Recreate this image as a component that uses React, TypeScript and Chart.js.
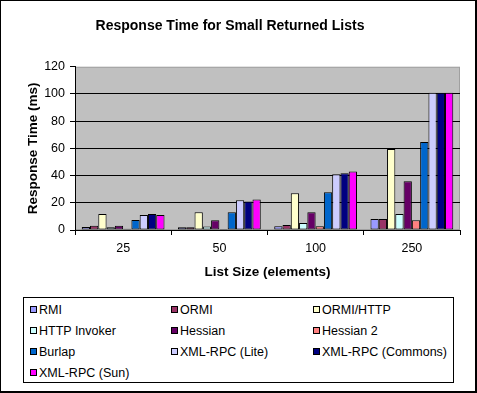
import React, { useEffect, useRef } from "react";
import { Chart, registerables } from "chart.js";

Chart.register(...registerables);

const categories = ["25", "50", "100", "250"];
const seriesNames = [
  "RMI",
  "ORMI",
  "ORMI/HTTP",
  "HTTP Invoker",
  "Hessian",
  "Hessian 2",
  "Burlap",
  "XML-RPC (Lite)",
  "XML-RPC (Commons)",
  "XML-RPC (Sun)",
];
const rmi = [2.2, 2, 2.7, 8.1];
const ormi = [3.2, 2, 3.7, 8.1];
const ormiHttp = [11.8, 13, 27, 59.6];
const httpInvoker = [2, 2.5, 5.1, 11.8];
const hessian = [3.2, 7.1, 13, 35.8];
const hessian2 = [1, 0.8, 2.7, 7.1];
const burlap = [7.4, 13, 27.7, 64.7];
const xmlLite = [11, 21.8, 41, 101];
const xmlCommons = [11.8, 21, 41.7, 101];
const xmlSun = [11, 22.5, 43, 101];
const seriesValues = [rmi, ormi, ormiHttp, httpInvoker, hessian, hessian2, burlap, xmlLite, xmlCommons, xmlSun];
const seriesColors = [
  "#9999FF",
  "#993366",
  "#FFFFCC",
  "#CCFFFF",
  "#660066",
  "#FF8080",
  "#0066CC",
  "#CCCCFF",
  "#000080",
  "#FF00FF",
];
const yTicks = [0, 20, 40, 60, 80, 100, 120];

const FONT = "'Liberation Sans', Arial, sans-serif";

const plotBg = {
  id: "plotBg",
  beforeDraw(chart: any) {
    const { ctx, chartArea } = chart;
    ctx.save();
    ctx.fillStyle = "#C0C0C0";
    ctx.fillRect(chartArea.left, chartArea.top, chartArea.right - chartArea.left, chartArea.bottom - chartArea.top);
    ctx.strokeStyle = "#A0A0A0";
    ctx.lineWidth = 1;
    ctx.strokeRect(chartArea.left + 0.5, chartArea.top + 0.5, chartArea.right - chartArea.left - 1, chartArea.bottom - chartArea.top - 1);
    ctx.restore();
  },
};

export default function App() {
  const ref = useRef<HTMLCanvasElement | null>(null);
  useEffect(() => {
    if (!ref.current) return;
    const chart = new Chart(ref.current, {
      type: "bar",
      data: {
        labels: categories,
        datasets: seriesNames.map((name, i) => ({
          label: name,
          data: seriesValues[i],
          backgroundColor: seriesColors[i],
          borderColor: "#000000",
          borderWidth: 1,
          borderSkipped: false,
          categoryPercentage: 0.86,
          barPercentage: 1.0,
        })),
      },
      options: {
        animation: false,
        responsive: false,
        maintainAspectRatio: false,
        layout: { padding: { left: 0, right: 17, top: 0, bottom: 0 } },
        plugins: {
          legend: { display: false },
          tooltip: { enabled: false },
          title: {
            display: true,
            text: "Response Time for Small Returned Lists",
            color: "#000",
            font: { family: FONT, size: 14, weight: "bold" },
            padding: { top: 18, bottom: 32 },
          },
        },
        scales: {
          x: {
            offset: true,
            grid: {
              display: true,
              offset: true,
              drawOnChartArea: false,
              drawTicks: true,
              tickLength: 5,
              color: "#000",
            },
            border: { display: true, color: "#000" },
            ticks: { color: "#000", padding: 6, font: { family: FONT, size: 12.5 } },
            title: {
              display: true,
              text: "List Size (elements)",
              color: "#000",
              font: { family: FONT, size: 13.5, weight: "bold" },
              padding: { top: 0, bottom: 10 },
            },
            afterFit(scale: any) {
              scale.height = 60;
            },
          },
          y: {
            min: 0,
            max: 120,
            afterBuildTicks(scale: any) {
              scale.ticks = yTicks.map((v) => ({ value: v }));
            },
            grid: {
              color: (c: any) => (c.tick && c.tick.value === 120 ? "rgba(0,0,0,0)" : "#000"),
              tickColor: "#000",
              tickLength: 5,
              drawTicks: true,
            },
            border: { display: true, color: "#000" },
            ticks: { color: "#000", padding: 5, font: { family: FONT, size: 12.5 } },
            title: {
              display: true,
              text: "Response Time (ms)",
              color: "#000",
              font: { family: FONT, size: 13.5, weight: "bold" },
              padding: { top: 25, bottom: 0 },
            },
            afterFit(scale: any) {
              scale.width = 75;
            },
          },
        },
      },
      plugins: [plotBg],
    });
    return () => chart.destroy();
  }, []);

  const cols = [30, 171, 313];
  const rows = [308.5, 329.5, 350.5, 371.5];

  return (
    <div
      style={{
        position: "fixed",
        left: 0,
        top: 0,
        width: 477,
        height: 393,
        background: "#fff",
        boxSizing: "border-box",
        border: "1px solid #000",
        borderRightWidth: 2,
        borderBottomWidth: 2,
        fontFamily: FONT,
        overflow: "hidden",
      }}
    >
      <canvas ref={ref} width={477} height={290} style={{ position: "absolute", left: -1, top: -1, width: 477, height: 290 }} />
      <div
        style={{
          position: "absolute",
          left: 22,
          top: 296,
          width: 431,
          height: 86,
          boxSizing: "border-box",
          border: "1px solid #000",
        }}
      />
      {seriesNames.map((name, i) => {
        const c = cols[i % 3];
        const r = rows[Math.floor(i / 3)];
        return (
          <div key={name} style={{ position: "absolute", left: c - 1, top: r - 10, height: 20, display: "flex", alignItems: "center", whiteSpace: "nowrap" }}>
            <div style={{ width: 7, height: 7, boxSizing: "border-box", border: "1px solid #000", background: seriesColors[i], marginRight: 2 }} />
            <span style={{ fontSize: 12.5, color: "#000", lineHeight: "20px" }}>{name}</span>
          </div>
        );
      })}
    </div>
  );
}
